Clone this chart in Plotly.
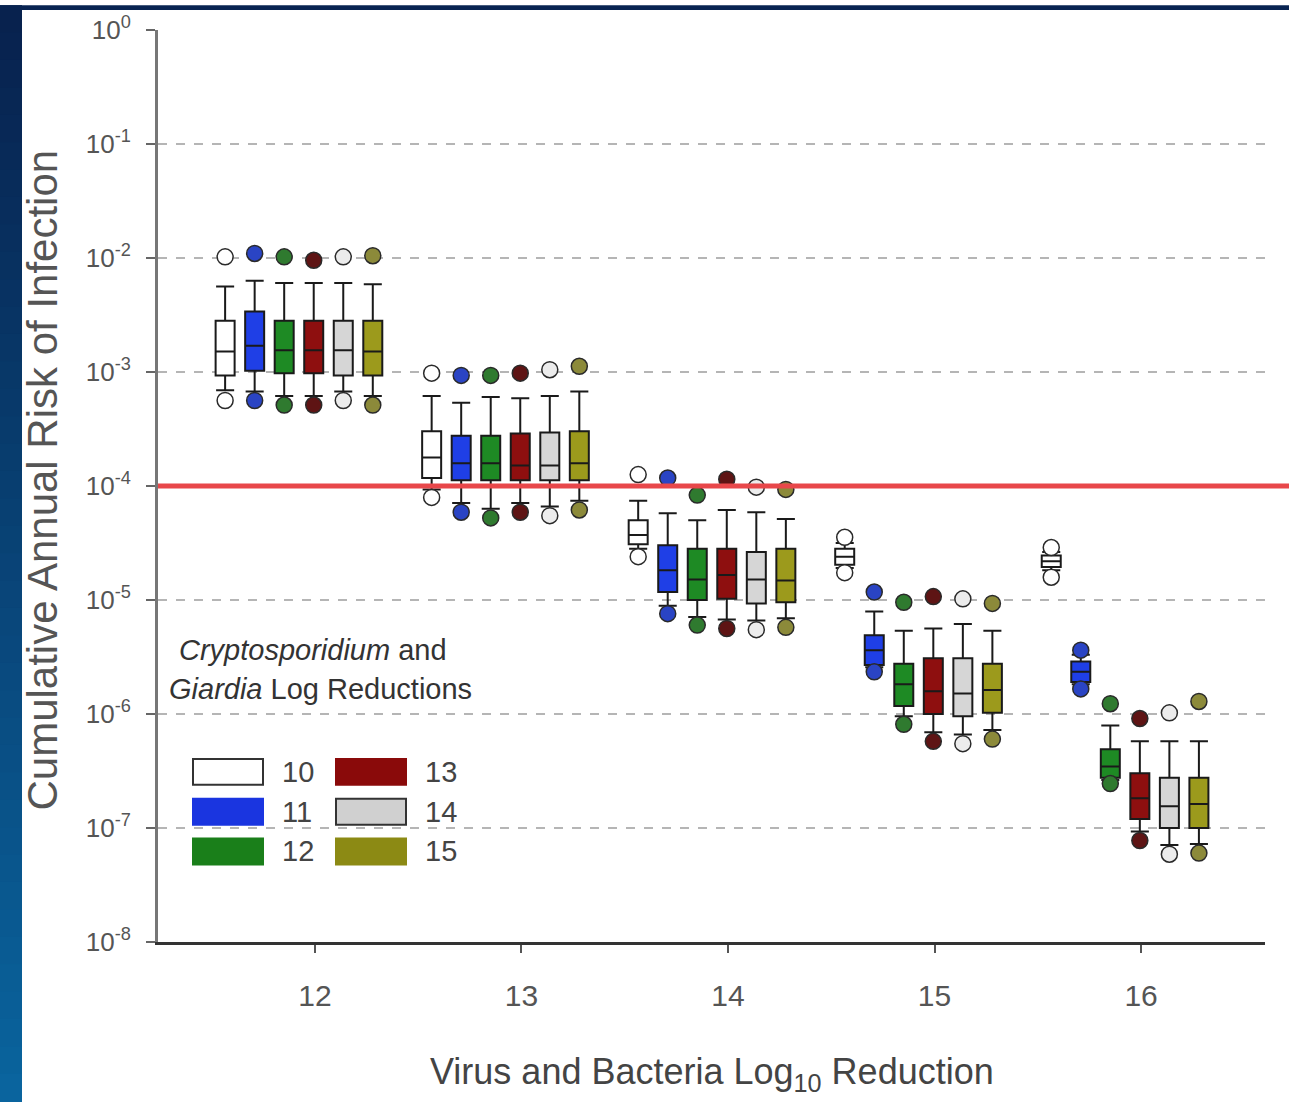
import plotly.graph_objects as go

# ---------------- data (log10 of cumulative annual risk) ----------------
GROUPS = [12, 13, 14, 15, 16]               # virus & bacteria log10 reduction
SERIES = ["10", "11", "12", "13", "14", "15"]  # Crypto/Giardia log reductions
Y_TICK_EXP = [0, -1, -2, -3, -4, -5, -6, -7, -8]
THRESHOLD_EXP = -4

R10_HI = [-1.99, -3.01, -3.90, -4.45, -4.54]
R10_UF = [-2.25, -3.21, -4.13, -4.50, -4.58]
R10_Q3 = [-2.55, -3.52, -4.30, -4.55, -4.61]
R10_MED = [-2.82, -3.75, -4.43, -4.62, -4.66]
R10_Q1 = [-3.03, -3.93, -4.51, -4.69, -4.71]
R10_LF = [-3.16, -4.03, -4.55, -4.72, -4.74]
R10_LO = [-3.25, -4.10, -4.62, -4.76, -4.80]

R11_HI = [-1.96, -3.03, -3.93, -4.93, -5.44]
R11_UF = [-2.20, -3.27, -4.24, -5.10, -5.48]
R11_Q3 = [-2.47, -3.56, -4.52, -5.31, -5.54]
R11_MED = [-2.77, -3.80, -4.74, -5.44, -5.63]
R11_Q1 = [-2.99, -3.95, -4.93, -5.57, -5.72]
R11_LF = [-3.17, -4.15, -5.05, -5.59, -5.74]
R11_LO = [-3.25, -4.23, -5.12, -5.63, -5.78]

R12_HI = [-1.99, -3.03, -4.08, -5.02, -5.91]
R12_UF = [-2.22, -3.22, -4.30, -5.27, -6.10]
R12_Q3 = [-2.55, -3.56, -4.55, -5.56, -6.31]
R12_MED = [-2.81, -3.80, -4.82, -5.74, -6.46]
R12_Q1 = [-3.01, -3.95, -5.00, -5.93, -6.56]
R12_LF = [-3.21, -4.20, -5.15, -6.02, -6.58]
R12_LO = [-3.29, -4.28, -5.22, -6.09, -6.61]

R13_HI = [-2.02, -3.01, -3.94, -4.97, -6.04]
R13_UF = [-2.22, -3.23, -4.21, -5.25, -6.24]
R13_Q3 = [-2.55, -3.54, -4.55, -5.51, -6.52]
R13_MED = [-2.81, -3.82, -4.78, -5.80, -6.74]
R13_Q1 = [-3.01, -3.95, -4.99, -6.00, -6.92]
R13_LF = [-3.21, -4.15, -5.17, -6.16, -7.03]
R13_LO = [-3.29, -4.23, -5.25, -6.24, -7.11]

R14_HI = [-1.99, -2.98, -4.01, -4.99, -5.99]
R14_UF = [-2.22, -3.21, -4.23, -5.21, -6.24]
R14_Q3 = [-2.55, -3.53, -4.58, -5.51, -6.56]
R14_MED = [-2.81, -3.82, -4.82, -5.82, -6.81]
R14_Q1 = [-3.03, -3.95, -5.03, -6.02, -7.00]
R14_LF = [-3.17, -4.18, -5.18, -6.18, -7.15]
R14_LO = [-3.25, -4.26, -5.26, -6.26, -7.23]

R15_HI = [-1.98, -2.95, -4.03, -5.03, -5.89]
R15_UF = [-2.23, -3.17, -4.29, -5.27, -6.24]
R15_Q3 = [-2.55, -3.52, -4.55, -5.56, -6.56]
R15_MED = [-2.82, -3.80, -4.83, -5.79, -6.79]
R15_Q1 = [-3.03, -3.95, -5.02, -5.99, -7.00]
R15_LF = [-3.21, -4.13, -5.16, -6.14, -7.14]
R15_LO = [-3.29, -4.21, -5.24, -6.22, -7.22]

STATS = {
    "10": (R10_HI, R10_UF, R10_Q3, R10_MED, R10_Q1, R10_LF, R10_LO),
    "11": (R11_HI, R11_UF, R11_Q3, R11_MED, R11_Q1, R11_LF, R11_LO),
    "12": (R12_HI, R12_UF, R12_Q3, R12_MED, R12_Q1, R12_LF, R12_LO),
    "13": (R13_HI, R13_UF, R13_Q3, R13_MED, R13_Q1, R13_LF, R13_LO),
    "14": (R14_HI, R14_UF, R14_Q3, R14_MED, R14_Q1, R14_LF, R14_LO),
    "15": (R15_HI, R15_UF, R15_Q3, R15_MED, R15_Q1, R15_LF, R15_LO),
}

# ---------------- styles ----------------
BOX_FILL = {"10": "#ffffff", "11": "#1f3fe6", "12": "#1e8a24",
            "13": "#8e0f0f", "14": "#d6d6d6", "15": "#9c9a1c"}
DOT_FILL = {"10": "#ffffff", "11": "#2a44c4", "12": "#2f7a2f",
            "13": "#5e1414", "14": "#ececec", "15": "#8c8a3a"}
LEG_FILL = {"10": "#ffffff", "11": "#1a35e0", "12": "#1a7f1a",
            "13": "#8a0a0a", "14": "#d0d0d0", "15": "#8c8a14"}
OFFSETS = [-0.435, -0.292, -0.149, -0.006, 0.137, 0.28]

W, H = 1289, 1102
ML, MR, MT, MB = 158, 24, 25, 160
PW, PH = W - ML - MR, H - MT - MB


def px(xp):
    return (xp - ML) / PW


def py(yp):
    return (H - MB - yp) / PH


SANS = "Liberation Sans, Arial"

fig = go.Figure()

for i, s in enumerate(SERIES):
    hi, uf, q3, med, q1, lf, lo = STATS[s]
    xs = [g + OFFSETS[i] for g in GROUPS]
    fig.add_trace(go.Box(
        x=xs,
        q1=[10 ** v for v in q1], median=[10 ** v for v in med],
        q3=[10 ** v for v in q3], lowerfence=[10 ** v for v in lf],
        upperfence=[10 ** v for v in uf],
        width=0.092, whiskerwidth=0.95, fillcolor=BOX_FILL[s],
        line=dict(color="#1a1a1a", width=2), boxpoints=False,
        showlegend=False, name=s,
    ))
for i, s in enumerate(SERIES):
    hi, uf, q3, med, q1, lf, lo = STATS[s]
    xs = [g + OFFSETS[i] for g in GROUPS]
    fig.add_trace(go.Scatter(
        x=xs + xs, y=[10 ** v for v in hi] + [10 ** v for v in lo],
        mode="markers", showlegend=False,
        marker=dict(size=16, color=DOT_FILL[s],
                    line=dict(color="#2a2a2a", width=1.5)),
    ))

shapes = []
# navy frame (left gradient strip + top band)
n = 40
c0, c1 = (8, 34, 78), (10, 100, 158)
for k in range(n):
    t = k / (n - 1)
    col = "rgb(%d,%d,%d)" % tuple(int(c0[j] + (c1[j] - c0[j]) * t) for j in range(3))
    shapes.append(dict(type="rect", xref="paper", yref="paper",
                       x0=px(0), x1=px(22), y0=py(k * H / n), y1=py((k + 1) * H / n + 1),
                       fillcolor=col, line=dict(width=0), layer="above"))
shapes.append(dict(type="rect", xref="paper", yref="paper", x0=px(0), x1=px(W),
                   y0=py(0), y1=py(5), fillcolor="#082452", line=dict(width=0), layer="above"))

# threshold line
shapes.append(dict(type="line", xref="paper", yref="y", x0=0, x1=px(W),
                   y0=10 ** THRESHOLD_EXP, y1=10 ** THRESHOLD_EXP,
                   line=dict(color="#e8474a", width=5), layer="above"))

annotations = []
# legend
leg_pos = {"10": (193, 758), "11": (193, 798), "12": (193, 838),
           "13": (336, 758), "14": (336, 798), "15": (336, 838)}
for s in SERIES:
    x0, y0 = leg_pos[s]
    edge = "#333333" if s in ("10", "14") else LEG_FILL[s]
    shapes.append(dict(type="rect", xref="paper", yref="paper",
                       x0=px(x0), x1=px(x0 + 70), y0=py(y0), y1=py(y0 + 26),
                       fillcolor=LEG_FILL[s], line=dict(color=edge, width=2)))
    annotations.append(dict(xref="paper", yref="paper", x=px(x0 + 87), y=py(y0 + 13),
                            text=s, showarrow=False, xanchor="left", yanchor="middle",
                            font=dict(family=SANS, size=29, color="#444444")))
annotations.append(dict(xref="paper", yref="paper", x=px(177), y=py(648),
                        text="<i>Cryptosporidium</i> and", showarrow=False,
                        xanchor="left", yanchor="middle",
                        font=dict(family=SANS, size=29, color="#333333")))
annotations.append(dict(xref="paper", yref="paper", x=px(167), y=py(688),
                        text="<i>Giardia</i> Log Reductions", showarrow=False,
                        xanchor="left", yanchor="middle",
                        font=dict(family=SANS, size=29, color="#333333")))
# axis titles
annotations.append(dict(xref="paper", yref="paper", x=px(712), y=py(1075),
                        text="Virus and Bacteria Log<sub>10</sub> Reduction",
                        showarrow=False, xanchor="center", yanchor="middle",
                        font=dict(family=SANS, size=36, color="#444444")))
annotations.append(dict(xref="paper", yref="paper", x=px(43), y=py(478),
                        text="Cumulative Annual Risk of Infection", textangle=-90,
                        showarrow=False, xanchor="center", yanchor="middle",
                        font=dict(family=SANS, size=42, color="#555555")))

fig.update_layout(
    width=W, height=H,
    margin=dict(l=ML, r=MR, t=MT, b=MB, pad=0),
    paper_bgcolor="white", plot_bgcolor="white",
    boxmode="overlay", showlegend=False,
    shapes=shapes, annotations=annotations,
    xaxis=dict(range=[11.24, 16.6], tickvals=GROUPS, ticktext=[str(g) for g in GROUPS],
               showgrid=False, zeroline=False, showline=True, linecolor="#333333",
               linewidth=3, ticks="outside", ticklen=8, tickwidth=2, tickcolor="#555555",
               ticklabelstandoff=17,
               tickfont=dict(family=SANS, size=30, color="#555555")),
    yaxis=dict(type="log", range=[-8, 0],
               tickvals=[10 ** e for e in Y_TICK_EXP],
               ticktext=["10<sup>%d</sup>" % e for e in Y_TICK_EXP],
               showgrid=True, gridcolor="#b5b5b5", gridwidth=1.5, griddash="dash",
               zeroline=False, showline=True, linecolor="#777777", linewidth=3,
               ticks="outside", ticklen=9, tickwidth=2, tickcolor="#666666",
               ticklabelstandoff=10,
               tickfont=dict(family=SANS, size=26, color="#555555")),
)

fig.write_html("out.html", config={"displayModeBar": False},
               post_script="document.body.style.margin='0';document.body.style.overflow='hidden';")
